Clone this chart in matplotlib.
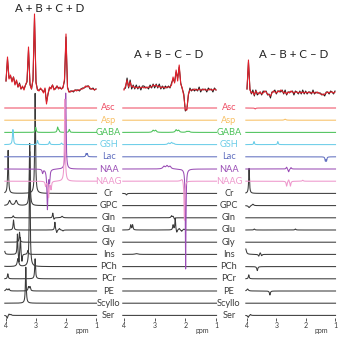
import numpy as np
import matplotlib.pyplot as plt

plt.rcParams['font.family'] = ['Lato', 'DejaVu Sans']

# basis metabolites, top to bottom
metabolites = ['Asc', 'Asp', 'GABA', 'GSH', 'Lac', 'NAA', 'NAAG', 'Cr', 'GPC',
               'Gln', 'Glu', 'Gly', 'Ins', 'PCh', 'PCr', 'PE', 'Scyllo', 'Ser']
titles = ['A + B + C + D', 'A + B \u2013 C \u2013 D', 'A \u2013 B + C \u2013 D']

# peak lists per metabolite: (ppm, amplitude, half width in ppm)
peaks_sum = {
    'Asc': [], 'Asp': [],
    'GABA': [(3.01, 5, .018), (2.28, 5, .018), (2.24, 2, .02), (1.89, 3, .018)],
    'GSH': [(3.77, 15, .018), (2.95, 4, .018), (2.55, 3, .018), (2.15, 1.5, .02)],
    'Lac': [(1.33, 3, .015), (1.29, 3, .015)],
    'NAA': [(2.01, 76, .016), (2.78, -4, .018), (2.62, -40, .02), (2.55, -12, .018)],
    'NAAG': [(2.04, 82, .016), (2.68, -5, .018), (2.58, -16, .018), (2.50, -8, .018)],
    'Cr': [(3.93, 43, .016), (3.03, 100, .016)],
    'GPC': [(3.88, 5, .04), (3.66, 5, .04), (3.21, 62, .016)],
    'Gln': [(3.76, 2, .02), (2.44, 5, .015), (2.40, -2, .018), (2.13, 1.5, .03)],
    'Glu': [(3.75, 10, .016), (2.37, 8, .015), (2.31, -3, .018), (2.22, 1.5, .02),
            (2.10, -1, .02)],
    'Gly': [(3.55, 10, .016)],
    'Ins': [(4.06, 6, .02), (3.62, 21, .013), (3.57, -10, .015), (3.52, 18, .013),
            (3.47, -8, .015), (3.27, 4, .02)],
    'PCh': [(4.16, 4, .03), (3.60, 8, .03), (3.21, 115, .016)],
    'PCr': [(3.94, 5, .016), (3.03, 20, .016)],
    'PE': [(3.98, 2, .03), (3.90, 2, .02), (3.25, 4, .02), (3.20, 4, .02)],
    'Scyllo': [(3.34, 36, .016)],
    'Ser': [(3.96, -3, .02), (3.90, 1.5, .02), (3.84, 1, .02)],
}
peaks_diff_cd = {
    'Asc': [], 'Asp': [],
    'GABA': [(3.05, 2, .03), (2.97, 2, .03), (2.30, 2.5, .03), (2.22, 2, .03),
             (1.95, 1, .03), (1.88, 1, .03)],
    'GSH': [(2.55, 1.5, .03), (2.45, 2, .03), (2.38, 1, .03)],
    'Lac': [],
    'NAA': [(2.70, 2.5, .04), (2.60, 3, .04), (2.50, 2.5, .04), (1.99, -100, .013)],
    'NAAG': [(2.10, 3, .05), (2.03, -40, .015)],
    'Cr': [(3.92, -1.5, .02)],
    'GPC': [],
    'Gln': [(2.45, 2, .02), (2.40, 1.5, .02), (2.35, -1.5, .02)],
    'Glu': [(3.78, 5, .016), (3.72, 5, .016), (2.40, 5, .016), (2.33, 12, .013),
            (2.28, -3, .016), (2.20, 1.5, .02), (2.12, -1.5, .02), (2.05, 1, .02)],
    'Gly': [],
    'Ins': [(3.60, 0.8, .05)],
    'PCh': [], 'PCr': [], 'PE': [], 'Scyllo': [], 'Ser': [],
}
peaks_diff_bd = {
    'Asc': [(3.72, -1, .02)],
    'Asp': [(2.70, 1, .03)],
    'GABA': [],
    'GSH': [(3.76, 3, .015), (2.95, 3, .015)],
    'Lac': [(1.33, -4, .015), (1.29, -4, .015)],
    'NAA': [(2.65, 2, .02), (2.58, -3, .02), (2.50, 1.5, .02)],
    'NAAG': [(2.65, -5, .018), (2.58, 2, .018), (2.52, -5, .018), (2.10, 1, .02)],
    'Cr': [(3.93, 25, .016)],
    'GPC': [(3.93, -2, .03), (3.80, 1.5, .03)],
    'Gln': [],
    'Glu': [(3.75, 1, .02), (2.35, 1, .02)],
    'Gly': [],
    'Ins': [(4.05, 6, .03), (3.60, -2, .02), (3.55, 2, .02), (3.50, -1.5, .02)],
    'PCh': [(3.65, -4, .02)],
    'PCr': [(3.94, 4, .016)],
    'PE': [(3.98, 2, .03), (3.22, -4, .018)],
    'Scyllo': [],
    'Ser': [(3.96, -2, .02), (3.88, 1, .02)],
}

# combined spectra sampled every 0.05 ppm from 4.00 down to 1.00
fit_sum = [10, 34, 12, 16, 9, 14, 6, 11, 4, 7, 2, 5, 1, 6, 10, 44, 6, 2, 12, 77,
           8, 1, 0, 3, 1, -2, 3, -13, -3, 4, 2, 6, 1, 3, 5, 2, 4, 2, 3, 12,
           57, 3, -1, -1, 0, 0, 1, 0, 1, 1, 2, 2, 3, 5, 4, 5, 3, 2, 2, 1, 2]
res_sum = [0, -2, 1, -1, 1, 0, 1, -1, 0, 1, 0, -1, 1, 0, -1, -3, 1, 0, -1, -4,
           1, 0, 1, -1, 0, 1, -1, 2, 0, -1, 1, 0, 1, -1, 0, 1, -1, 0, 1, -2,
           -3, 1, 0, 1, 0, -1, 0, 1, 0, -1, 0, 1, 0, -1, 1, 0, -1, 0, 1, 0, 0]
fit_cd = [0, 4, 10, 3, 8, 3, 4, 2, 3, 2, 3, 2, 3, 2, 3, 2, 3, 3, 3, 5,
          4, 5, 3, 4, 2, 3, 3, 2, 3, 3, 3, 5, 13, 7, 20, 9, 25, 6, 2, -6,
          -20, -20, -4, 0, 0, 0, 1, 0, 0, 1, 0, 0, 1, 0, 0, 0, 1, 0, 0, 1, 0]
res_cd = [1, -2, 2, -1, 2, -2, 1, -1, 2, -1, 1, -2, 1, 2, -1, 1, -2, 2, -1, 1,
          -2, 1, -1, 2, -1, 1, -2, 2, -1, 1, -1, 2, -2, 1, -2, 3, -2, 1, -1, 2,
          -1, 1, -1, 2, -1, 1, -2, 1, -1, 2, -2, 1, -1, 1, -2, 2, -1, 1, -2, 1, 0]
fit_bd = [4, 33, 3, 0, 1, -2, 2, 0, -1, 1, -1, 0, 2, 1, -1, -2, -3, 0, 2, 1,
          0, 2, 1, 3, 2, 0, 1, -1, 1, 0, 2, 1, 0, 1, 1, 0, 1, 0, 1, 0,
          1, 0, 1, 0, 0, 1, 0, 0, 1, 0, -1, -1, -2, -1, 0, 1, 0, 1, 1, 0, 1]
res_bd = [0, -2, 1, -1, 2, -1, 1, -2, 1, 0, -1, 2, -1, 1, -1, 1, -2, 1, -1, 2,
          -1, 0, 1, -2, 1, -1, 2, -1, 0, 1, -1, 1, -2, 1, 0, -1, 1, -1, 2, -1,
          1, -1, 0, 1, -1, 2, -1, 1, -1, 0, 1, -1, 1, -2, 1, 0, -1, 1, 0, -1, 1]

colors = {'Asc': '#ee4d64', 'Asp': '#f8c064', 'GABA': '#4cc25a', 'GSH': '#6bcde8',
          'Lac': '#6270c0', 'NAA': '#9a4db5', 'NAAG': '#ee98cc'}
dark = '#3a3a3a'

W, H = 342, 340
ppm_edges = [(6, 96), (124, 216), (247, 335)]   # pixel x of 4 ppm and 1 ppm
axis_y = 318
row_y = [108 + 12.2 * i for i in range(len(metabolites))]
sum_y = [91, 90, 93]
title_y = [8, 55, 55]
title_x = [2.53, 2.53, 2.4]

ppm = np.arange(4.04, 0.98, -0.002)
ppm_coarse = np.linspace(4.0, 1.0, 61)


def spectrum(peaks):
    y = np.zeros_like(ppm)
    for center, amp, hw in peaks:
        y += amp * hw ** 2 / ((ppm - center) ** 2 + hw ** 2)
    return y


fig = plt.figure(figsize=(W / 100, H / 100), dpi=100)

panels = [(peaks_sum, fit_sum, res_sum), (peaks_diff_cd, fit_cd, res_cd),
          (peaks_diff_bd, fit_bd, res_bd)]
for i, (peaks, fit, res) in enumerate(panels):
    x4, x1 = ppm_edges[i]
    ax = fig.add_axes([x4 / W, (H - axis_y) / H, (x1 - x4) / W, axis_y / H])
    ax.set_xlim(4, 1)
    ax.set_ylim(axis_y, 0)
    for s in ax.spines.values():
        s.set_visible(False)
    ax.set_yticks([])
    ax.set_xticks([4, 3, 2, 1])
    ax.set_xticklabels(['4', '3', '2', '1'])
    ax.tick_params(axis='x', length=2.2, width=0.6, color=dark, pad=1,
                   labelsize=5, labelcolor=dark)
    ax.set_xlabel('ppm', fontsize=5, color=dark)
    ax.xaxis.set_label_coords(0.85, -0.028)
    ax.patch.set_alpha(0)

    # combined spectrum: measured (black) and fit (red)
    fit = np.array(fit, dtype=float)
    data = fit + np.array(res, dtype=float)
    ax.plot(ppm_coarse, sum_y[i] - data, color='#1a1a1a', lw=0.75, clip_on=False)
    ax.plot(ppm_coarse, sum_y[i] - fit, color='#e3202b', lw=0.8, clip_on=False)
    ax.text(title_x[i], title_y[i], titles[i], ha='center', va='center',
            fontsize=8.3, color='#222222')

    for j, name in enumerate(metabolites):
        c = colors.get(name, dark)
        z = 3 if name in colors else 2
        ax.plot(ppm, row_y[j] - spectrum(peaks[name]), color=c, lw=0.75,
                clip_on=False, zorder=z)
        if i < 2:
            ax.text(1.14, row_y[j], name, transform=ax.get_yaxis_transform(),
                    ha='center', va='center', fontsize=6.7, color=c)

fig.savefig('out.png', dpi=100)
